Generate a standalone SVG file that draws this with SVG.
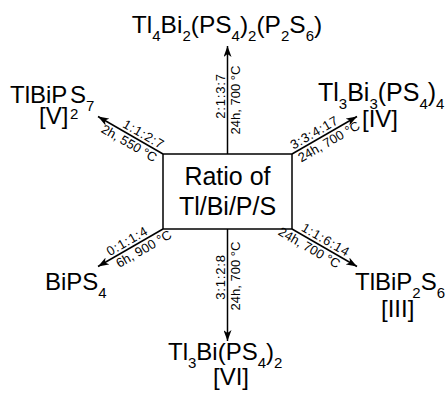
<svg xmlns="http://www.w3.org/2000/svg" width="448" height="394" viewBox="0 0 448 394">
<style>
text{font-family:"Liberation Sans",Arial,sans-serif;fill:#000}
.big{font-size:24px}
.sub{font-size:15px}
.lab{font-size:13px}
.rat{letter-spacing:0.8px}
.ln{stroke:#000;stroke-width:1.5;fill:none}
</style>
<defs>
<marker id="ah" markerUnits="userSpaceOnUse" markerWidth="12" markerHeight="8" refX="11" refY="4" orient="auto">
<path d="M0,0 L11,4 L0,8 L3,4 z" fill="#000"/>
</marker>
</defs>
<rect width="448" height="394" fill="#fff"/>
<g id="connectors">
<line class="ln" x1="227.5" y1="154" x2="227.5" y2="46" marker-end="url(#ah)"/>
<line class="ln" x1="227.5" y1="229" x2="227.5" y2="341" marker-end="url(#ah)"/>
<line class="ln" x1="163" y1="154" x2="98" y2="116.5" marker-end="url(#ah)"/>
<line class="ln" x1="292" y1="154" x2="357" y2="116.5" marker-end="url(#ah)"/>
<line class="ln" x1="163" y1="229" x2="98" y2="266.5" marker-end="url(#ah)"/>
<line class="ln" x1="292" y1="229" x2="357" y2="266.5" marker-end="url(#ah)"/>
<g text-anchor="middle">
<text class="lab rat" transform="translate(227.5,96) rotate(-90)" y="-3">2:1:3:7</text>
<text class="lab" transform="translate(227.5,100) rotate(-90)" y="12">24h, 700 °C</text>
<text class="lab rat" transform="translate(227.5,277) rotate(-90)" y="-3">3:1:2:8</text>
<text class="lab" transform="translate(227.5,276) rotate(-90)" y="12">24h, 700 °C</text>
<text class="lab rat" transform="translate(140,140.7) rotate(30)" y="-3">1:1:2:7</text>
<text class="lab" transform="translate(133,136.7) rotate(30)" y="12">2h, 550 °C</text>
<text class="lab rat" transform="translate(318,139) rotate(-30)" y="-3">3:3:4:17</text>
<text class="lab" transform="translate(325,135) rotate(-30)" y="12">24h, 700 °C</text>
<text class="lab rat" transform="translate(131,247.5) rotate(-30)" y="-3">0:1:1:4</text>
<text class="lab" transform="translate(140,242.3) rotate(-30)" y="12">6h, 900 °C</text>
<text class="lab rat" transform="translate(322,246.3) rotate(30)" y="-3">1:1:6:14</text>
<text class="lab" transform="translate(313,241.1) rotate(30)" y="12">24h, 700 °C</text>
</g>
</g>
<g id="center">
<rect class="ln" x="163" y="154" width="129" height="75" fill="#fff"/>
<text x="227.5" y="185" text-anchor="middle" style="font-size:25px">Ratio of</text>
<text x="227.5" y="215" text-anchor="middle" style="font-size:25px">Tl/Bi/P/S</text>
</g>
<g id="top">
<text class="big" x="227" y="33" text-anchor="middle" style="font-size:24.5px">Tl<tspan class="sub" dy="8">4</tspan><tspan dy="-8">Bi</tspan><tspan class="sub" dy="8">2</tspan><tspan dy="-8">(PS</tspan><tspan class="sub" dy="8">4</tspan><tspan dy="-8">)</tspan><tspan class="sub" dy="8">2</tspan><tspan dy="-8">(P</tspan><tspan class="sub" dy="8">2</tspan><tspan dy="-8">S</tspan><tspan class="sub" dy="8">6</tspan><tspan dy="-8">)</tspan></text>
</g>
<g id="upper-left">
<text class="big" x="10" y="103">TlBiP</text>
<text class="sub" x="70" y="119">2</text>
<text class="big" x="70" y="103">S</text>
<text class="sub" x="86" y="111">7</text>
<text class="big" x="39" y="124">[V]</text>
</g>
<g id="upper-right">
<text class="big" x="318" y="101" style="font-size:25px">Tl<tspan class="sub" dy="8">3</tspan><tspan dy="-8">Bi</tspan><tspan class="sub" dy="8">3</tspan><tspan dy="-8">(PS</tspan><tspan class="sub" dy="8">4</tspan><tspan dy="-8">)</tspan><tspan class="sub" dy="8">4</tspan></text>
<text class="big" x="362" y="127">[IV]</text>
</g>
<g id="lower-left">
<text class="big" x="45" y="290">BiPS<tspan class="sub" dy="8">4</tspan></text>
</g>
<g id="lower-right">
<text class="big" x="355" y="290">TlBiP<tspan class="sub" dy="8">2</tspan><tspan dy="-8">S</tspan><tspan class="sub" dy="8">6</tspan></text>
<text class="big" x="381" y="317">[III]</text>
</g>
<g id="bottom">
<text class="big" x="168" y="360">Tl<tspan class="sub" dy="8">3</tspan><tspan dy="-8">Bi(PS</tspan><tspan class="sub" dy="8">4</tspan><tspan dy="-8">)</tspan><tspan class="sub" dy="8">2</tspan></text>
<text class="big" x="213" y="385">[VI]</text>
</g>
</svg>
